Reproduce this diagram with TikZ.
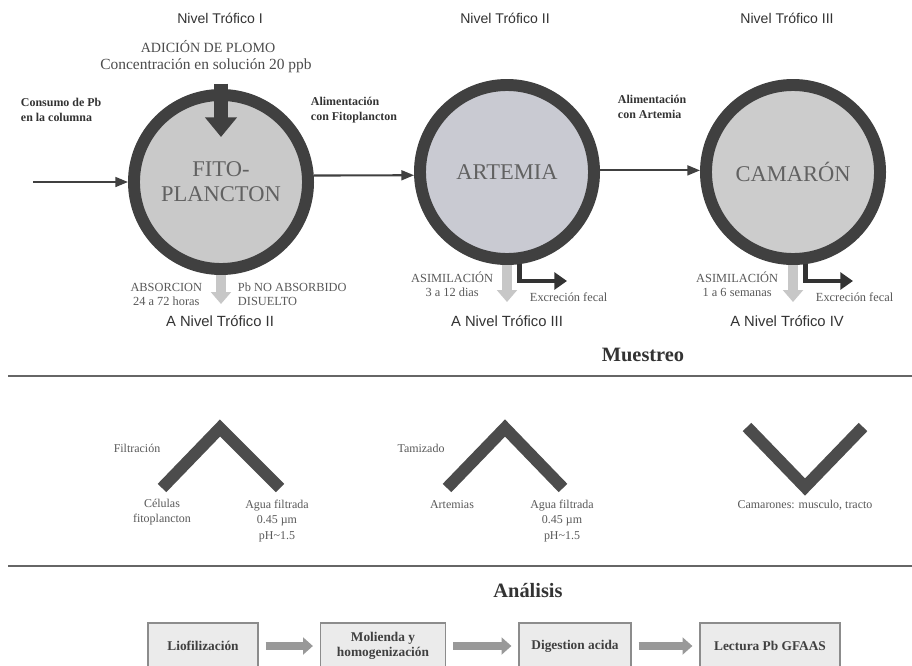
\documentclass[tikz,border=0pt]{standalone}
\usepackage{fontspec}
\setmainfont{Liberation Serif}
\newfontfamily\lvlfont{Liberation Sans}
\usetikzlibrary{arrows.meta}
\definecolor{artfill}{RGB}{201,202,210}

\begin{document}
\begin{tikzpicture}[x=0.025cm, y=-0.025cm,
    lvl/.style = {font=\lvlfont\fontsize{10}{12}\selectfont, text=black!80},
    addtxt/.style = {font=\fontsize{10}{13}\selectfont, text=black!70},
    feed/.style = {font=\bfseries\fontsize{8.5}{10.5}\selectfont, text=black!80, align=left},
    org/.style = {circle, draw=black!75, fill=black!21, line width=8.5pt, minimum size=4.35cm, inner sep=0pt, align=center, font=\fontsize{16}{18}\selectfont, text=black!62},
    note/.style = {font=\fontsize{8.8}{10}\selectfont, text=black!65, align=center},
    smp/.style = {font=\fontsize{8.5}{11}\selectfont, text=black!65, align=center},
    title/.style = {font=\bfseries\fontsize{14.5}{16}\selectfont, text=black!80},
    flow/.style = {draw=black!75, line width=1.5pt, -{Triangle[length=9pt,width=7pt]}},
    pbin/.style = {draw=black!75, line width=10pt, -{Triangle[length=14pt,width=22pt]}, shorten <=4pt},
    downar/.style = {draw=black!22, line width=7pt, -{Triangle[length=8.5pt,width=14pt]}},
    elbow/.style = {draw=black!80, line width=3.5pt, -{Triangle[length=9pt,width=12pt]}},
    chev/.style = {draw=black!70, line width=8.5pt},
    sepline/.style = {draw=black!60, line width=1.2pt},
    box/.style = {draw=black!45, fill=black!8, line width=0.8pt, minimum height=1.15cm, align=center, font=\bfseries\fontsize{9.5}{11}\selectfont, text=black!75},
    stepar/.style = {draw=black!40, line width=5pt, -{Triangle[length=7pt,width=12pt]}, shorten <=5pt, shorten >=5pt}]

    \useasboundingbox (0,0) rectangle (912,665);
    \clip (0,0) rectangle (912,665);
    \fill[white] (0,0) rectangle (912,665);

    % niveles troficos
    \node[lvl] (lvlI) at (220,18) {Nivel Trófico I};
    \node[lvl] (lvlII) at (505,18) {Nivel Trófico II};
    \node[lvl] (lvlIII) at (787,18) {Nivel Trófico III};

    \node[addtxt] (adic) at (208,47) {ADICIÓN DE PLOMO};
    \node[addtxt, font=\fontsize{11}{13}\selectfont] (conc) at (206,66) {Concentración en solución 20 ppb};

    % organismos
    \node[org] (fito) at (221,182) {FITO-\\PLANCTON};
    \node[org, fill=artfill] (art) at (507,172) {ARTEMIA};
    \node[org, fill=black!20] (cam) at (793,172) {CAMARÓN};

    \node[feed, anchor=west] (consumo) at (16,110) {Consumo de Pb\\en la columna};
    \node[feed, anchor=west] (alimF) at (306,110) {Alimentación\\con Fitoplancton};
    \node[feed, anchor=west] (alimA) at (613,107) {Alimentación\\con Artemia};

    \coordinate (pbsrc) at (33,182);
    \coordinate (pbtip) at (221,137);
    \draw[flow] (pbsrc) -- (fito.west);
    \draw[flow] (fito.4) -- (art.182);
    \draw[flow] (art.1) -- (cam.179);
    \draw[pbin] (pbtip |- conc.south) -- (pbtip);

    % salidas
    \coordinate (d1) at (221,304);
    \coordinate (d2) at (507,302);
    \coordinate (d3) at (793,302);
    \coordinate (e2) at (567,281);
    \coordinate (e3) at (853,281);
    \draw[downar] (fito.south) -- (d1);
    \draw[downar] (art.south) -- (d2);
    \draw[downar] (cam.south) -- (d3);
    \draw[elbow] (art.-82) |- (e2);
    \draw[elbow] (cam.-82) |- (e3);

    \node[note, anchor=east] (absor) at (207,294) {ABSORCION\\24 a 72 horas};
    \node[note, anchor=west, align=left] (noabs) at (233,294) {Pb NO ABSORBIDO\\DISUELTO};
    \node[note, anchor=east] (asimA) at (498,284) {ASIMILACIÓN\\3 a 12 dias};
    \node[note, anchor=west] (excA) at (525,297) {Excreción fecal};
    \node[note, anchor=east] (asimC) at (783,284) {ASIMILACIÓN\\1 a 6 semanas};
    \node[note, anchor=west] (excC) at (811,297) {Excreción fecal};

    \node[lvl, font=\lvlfont\fontsize{10.5}{12}\selectfont] (toII) at (220,321) {A Nivel Trófico II};
    \node[lvl, font=\lvlfont\fontsize{10.5}{12}\selectfont] (toIII) at (507,321) {A Nivel Trófico III};
    \node[lvl, font=\lvlfont\fontsize{10.5}{12}\selectfont] (toIV) at (787,321) {A Nivel Trófico IV};

    % muestreo
    \node[title] (muestreo) at (643,355) {Muestreo};
    \draw[sepline] (8,376) -- (912,376);

    \draw[chev] (162,488) -- (220,428) -- (280,488);
    \draw[chev] (447,488) -- (505,428) -- (563,488);
    \draw[chev] (747,427) -- (805,487) -- (863,427);

    \node[smp] (filtr) at (137,448) {Filtración};
    \node[smp] (cel) at (162,512) {Células\\fitoplancton};
    \node[smp] (aguaF) at (277,521) {Agua filtrada\\0.45 µm\\pH\textasciitilde 1.5};
    \node[smp] (tamiz) at (421,448) {Tamizado};
    \node[smp] (artms) at (452,505) {Artemias};
    \node[smp] (aguaA) at (562,521) {Agua filtrada\\0.45 µm\\pH\textasciitilde 1.5};
    \node[smp] (camrs) at (805,505) {Camarones: musculo, tracto};

    \draw[sepline] (8,566) -- (912,566);

    % analisis
    \node[title] (analisis) at (528,591) {Análisis};
    \node[box, minimum width=2.75cm] (liof) at (203,646) {Liofilización};
    \node[box, minimum width=3.125cm] (mol) at (383,646) {Molienda y\\homogenización};
    \node[box, minimum width=2.8cm] (dig) at (575,646) {Digestion acida};
    \node[box, minimum width=3.5cm] (lect) at (770,646) {Lectura Pb GFAAS};
    \draw[stepar] (liof) -- (mol);
    \draw[stepar] (mol) -- (dig);
    \draw[stepar] (dig) -- (lect);
\end{tikzpicture}
\end{document}
